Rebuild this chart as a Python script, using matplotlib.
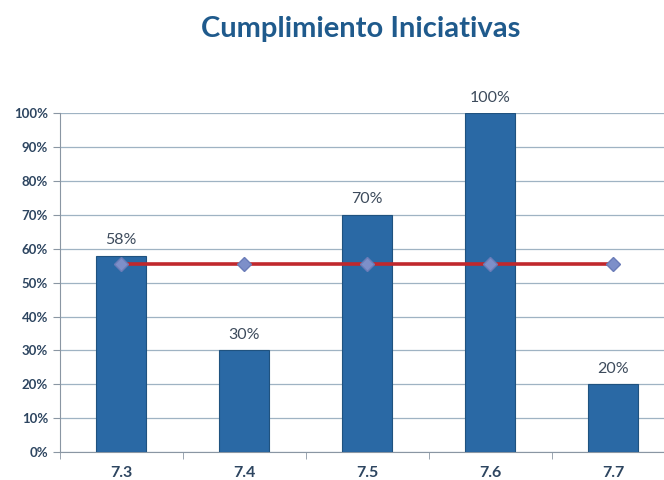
import numpy as np
import matplotlib.pyplot as plt
from matplotlib.ticker import PercentFormatter, FixedLocator

plt.rcParams['font.family'] = ['Lato', 'DejaVu Sans']

# datos
categorias = ['7.3', '7.4', '7.5', '7.6', '7.7']
cumplimiento = [58, 30, 70, 100, 20]
promedio = [55.6, 55.6, 55.6, 55.6, 55.6]

fig = plt.figure(figsize=(6.64, 4.8), dpi=100)
ax = fig.add_axes([0.090, 0.058, 0.926, 0.706])

x = np.arange(len(categorias))
barras = ax.bar(x, cumplimiento, width=0.41, color='#2a69a5', edgecolor='#1f527f',
                linewidth=0.8, zorder=3)
ax.plot(x, promedio, color='#c0282d', lw=2.6, zorder=4)
ax.plot(x, promedio, linestyle='none', marker='D', markersize=7,
        markerfacecolor='#7d8fc9', markeredgecolor='#6a7cb8', zorder=5)

for xi, v in zip(x, cumplimiento):
    ax.text(xi, v + 2.5, '%d%%' % v, ha='center', va='bottom',
            fontsize=11.5, color='#3d4b5c')

ax.set_xlim(-0.5, len(categorias) - 0.5)
ax.set_ylim(0, 100)
ax.set_yticks(np.arange(0, 101, 10))
ax.yaxis.set_major_formatter(PercentFormatter(decimals=0))
ax.set_xticks(x)
ax.set_xticklabels(categorias)
ax.xaxis.set_minor_locator(FixedLocator(np.arange(-0.5, len(categorias), 1)))
ax.tick_params(axis='x', which='major', length=0, pad=10, labelsize=11.5,
               labelcolor='#2d4560')
ax.tick_params(axis='x', which='minor', length=5, color='#8a96a3')
ax.tick_params(axis='y', length=5, color='#8a96a3', labelsize=9.5,
               labelcolor='#2d4560')
for lab in ax.get_xticklabels() + ax.get_yticklabels():
    lab.set_fontweight('bold')

ax.grid(axis='y', color='#9fb3c3', lw=0.9, zorder=0)
for s in ['top', 'right']:
    ax.spines[s].set_visible(False)
ax.spines['left'].set_color('#8a96a3')
ax.spines['bottom'].set_color('#8a96a3')

fig.text(0.543, 0.94, 'Cumplimiento Iniciativas', ha='center', va='center',
         fontsize=21, fontweight='bold', color='#1f5a8c')

fig.savefig('out.png', dpi=100)
